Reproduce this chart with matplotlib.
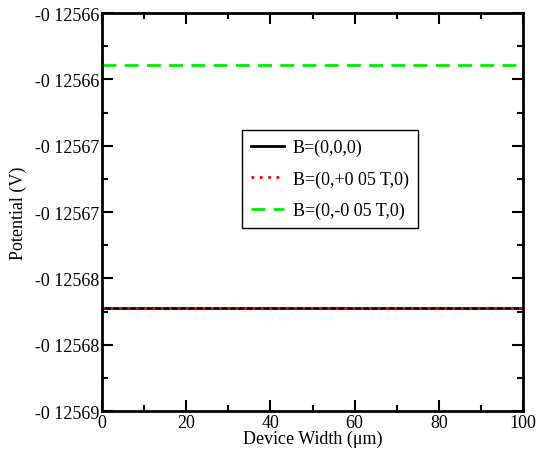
import matplotlib
matplotlib.use('Agg')
import matplotlib.pyplot as plt
from matplotlib.ticker import MultipleLocator

plt.rcParams['font.family'] = ['Liberation Serif', 'DejaVu Serif']
plt.rcParams['font.size'] = 13

# Data
width = [0, 100]
b_zero = [-0.1256822, -0.1256822]
b_plus = [-0.1256822, -0.1256822]
b_minus = [-0.1256639, -0.1256639]

y_ticks = [-0.12566, -0.125665, -0.12567, -0.125675, -0.12568, -0.125685, -0.12569]
y_labels = ['-0 12566', '-0 12566', '-0 12567', '-0 12567', '-0 12568', '-0 12568', '-0 12569']

fig = plt.figure(figsize=(5.38, 4.56), dpi=100)
ax = fig.add_axes([102 / 538, 1 - 412 / 456, 421 / 538, 398 / 456])

ax.plot(width, b_zero, color='black', lw=2, label='B=(0,0,0)')
ax.plot(width, b_plus, color='red', lw=2, linestyle=(0, (1, 2)), label='B=(0,+0 05 T,0)')
ax.plot(width, b_minus, color='#00ee00', lw=2, linestyle=(0, (5, 3)), label='B=(0,-0 05 T,0)')

ax.set_xlim(0, 100)
ax.set_ylim(-0.12569, -0.12566)
ax.set_xticks([0, 20, 40, 60, 80, 100])
ax.xaxis.set_minor_locator(MultipleLocator(10))
ax.set_yticks(y_ticks)
ax.set_yticklabels(y_labels)
ax.yaxis.set_minor_locator(MultipleLocator(0.0000025))

ax.tick_params(which='both', direction='in', top=True, right=True, width=1.5)
ax.tick_params(which='major', length=8, pad=2)
ax.tick_params(which='minor', length=4)
for s in ax.spines.values():
    s.set_linewidth(2)

ax.set_xlabel('Device Width (\u03bcm)', labelpad=-1)
ax.set_ylabel('Potential (V)', labelpad=6)

leg = ax.legend(loc='upper left', bbox_to_anchor=(0.3325, 0.706), borderaxespad=0,
                fancybox=False, edgecolor='black', framealpha=1,
                handlelength=1.8, borderpad=0.5,
                labelspacing=0.78, handletextpad=0.5)
leg.get_frame().set_linewidth(1)

fig.savefig('out.png', dpi=100)
